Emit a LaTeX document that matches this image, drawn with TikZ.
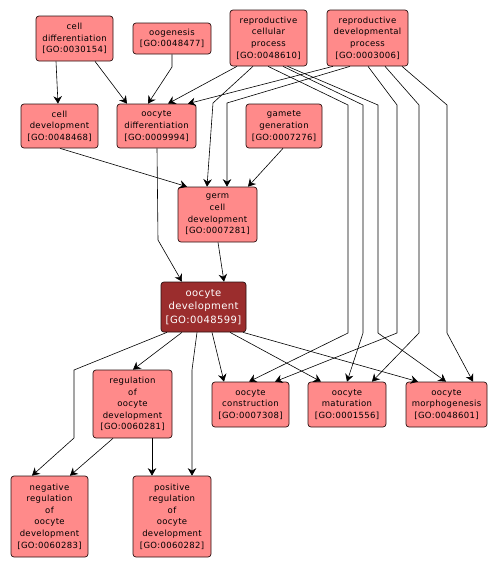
\documentclass[tikz,border=0pt]{standalone}
\usepackage{fontspec}
\setmainfont{DejaVu Sans}[LetterSpace=4]
\usetikzlibrary{arrows.meta}
\definecolor{lightnode}{HTML}{FF8A8A}
\definecolor{darknode}{HTML}{9B2D2D}
\definecolor{nodeborder}{HTML}{2A1010}
\tikzset{
  goterm/.style={draw=nodeborder, line width=0.7pt, rounded corners=3pt, fill=lightnode,
    align=center, inner sep=0pt, font=\fontsize{8.5}{11.6}\selectfont},
  gofocus/.style={goterm, fill=darknode, text=white, font=\fontsize{10}{13.8}\selectfont},
  edge/.style={draw=black, line width=0.6pt, -{Stealth[length=7.5pt,width=8.5pt,inset=2.5pt]}},
}
\begin{document}
\begin{tikzpicture}[x=1pt,y=-1pt]
\useasboundingbox (0,0) rectangle (497,568);
% nodes
\node[goterm, minimum width=77pt, minimum height=45pt] (celldiff) at (74.5,38.5) {cell\\differentiation\\{[}GO:0030154{]}};
\node[goterm, minimum width=78pt, minimum height=31pt] (oogen) at (172,38.5) {oogenesis\\{[}GO:0048477{]}};
\node[goterm, minimum width=77pt, minimum height=56pt] (repcell) at (268.5,38) {reproductive\\cellular\\process\\{[}GO:0048610{]}};
\node[goterm, minimum width=81pt, minimum height=56pt] (repdev) at (367.5,38) {reproductive\\developmental\\process\\{[}GO:0003006{]}};
\node[goterm, minimum width=77pt, minimum height=44pt] (celldev) at (59.5,126) {cell\\development\\{[}GO:0048468{]}};
\node[goterm, minimum width=79pt, minimum height=44pt] (oocdiff) at (156.5,126) {oocyte\\differentiation\\{[}GO:0009994{]}};
\node[goterm, minimum width=76pt, minimum height=44pt] (gamete) at (284,126) {gamete\\generation\\{[}GO:0007276{]}};
\node[goterm, minimum width=79pt, minimum height=55pt] (germ) at (217.5,214.5) {germ\\cell\\development\\{[}GO:0007281{]}};
\node[gofocus, minimum width=85pt, minimum height=50pt] (oocdev) at (203.5,307) {oocyte\\development\\{[}GO:0048599{]}};
\node[goterm, minimum width=79pt, minimum height=68pt] (reg) at (132.5,404) {regulation\\of\\oocyte\\development\\{[}GO:0060281{]}};
\node[goterm, minimum width=77pt, minimum height=81pt] (neg) at (49.5,516.5) {negative\\regulation\\of\\oocyte\\development\\{[}GO:0060283{]}};
\node[goterm, minimum width=78pt, minimum height=81pt] (pos) at (172,516.5) {positive\\regulation\\of\\oocyte\\development\\{[}GO:0060282{]}};
\node[goterm, minimum width=77pt, minimum height=45pt] (constr) at (250.5,404.5) {oocyte\\construction\\{[}GO:0007308{]}};
\node[goterm, minimum width=78pt, minimum height=45pt] (matur) at (347,404.5) {oocyte\\maturation\\{[}GO:0001556{]}};
\node[goterm, minimum width=81pt, minimum height=45pt] (morph) at (446.5,404.5) {oocyte\\morphogenesis\\{[}GO:0048601{]}};
% edges
\draw[edge] ([xshift=-18.5pt]celldiff.south) -- ([xshift=-1.5pt]celldev.north);
\draw[edge] ([xshift=20.5pt]celldiff.south) -- ([xshift=-29.5pt]oocdiff.north);
\draw[edge] (oogen.south) -- (172,67) -- ([xshift=-8.5pt]oocdiff.north);
\draw[edge] ([xshift=-31.5pt]repcell.south) -- ([xshift=11.5pt]oocdiff.north);
\draw[edge] ([xshift=-34.5pt]repdev.south) -- ([xshift=31.5pt]oocdiff.north);
\draw[edge] ([xshift=-15.5pt]repcell.south) -- (213,103) -- ([xshift=-10.5pt]germ.north);
\draw[edge] ([xshift=-17.5pt]repdev.south) -- (227,103) -- ([xshift=9.5pt]germ.north);
\draw[edge] ([xshift=-1pt]gamete.south) -- ([xshift=30.5pt]germ.north);
\draw[edge] ([xshift=0.5pt]celldev.south) -- ([xshift=-30.5pt]germ.north);
\draw[edge] ([xshift=0.5pt]oocdiff.south) -- (158,240) -- ([xshift=-21.5pt]oocdev.north);
\draw[edge] ([xshift=0.5pt]germ.south) -- ([xshift=20.5pt]oocdev.north);
\draw[edge] ([xshift=-0.5pt]repcell.south) -- (348,105) -- (348,333) -- ([xshift=-1.5pt]constr.north);
\draw[edge] ([xshift=14.5pt]repcell.south) -- (363,105) -- (363,333) -- (matur.north);
\draw[edge] ([xshift=19pt]repcell.south) -- (378,105) -- (378,333) -- ([xshift=-0.5pt]morph.north);
\draw[edge] ([xshift=0.5pt]repdev.south) -- (397,105) -- (397,333) -- ([xshift=24.5pt]constr.north);
\draw[edge] ([xshift=17.5pt]repdev.south) -- (419,105) -- (419,333) -- ([xshift=25pt]matur.north);
\draw[edge] ([xshift=34.5pt]repdev.south) -- (447,105) -- (447,333) -- ([xshift=26.5pt]morph.north);
\draw[edge] ([xshift=8.5pt]oocdev.south) -- ([xshift=-26.5pt]constr.north);
\draw[edge] ([xshift=26.5pt]oocdev.south) -- ([xshift=-26pt]matur.north);
\draw[edge] ([xshift=39.5pt]oocdev.south) -- ([xshift=-28.5pt]morph.north);
\draw[edge] ([xshift=-21.5pt]oocdev.south) -- ([xshift=0.5pt]reg.north);
\draw[edge] ([xshift=-36.5pt]oocdev.south) -- (74,370) -- (74,438) -- ([xshift=-17.5pt]neg.north);
\draw[edge] ([xshift=-6.5pt]oocdev.south) -- (192,370) -- ([xshift=20pt]pos.north);
\draw[edge] ([xshift=-19.5pt]reg.south) -- ([xshift=20.5pt]neg.north);
\draw[edge] ([xshift=19.5pt]reg.south) -- ([xshift=-20pt]pos.north);
\end{tikzpicture}
\end{document}
